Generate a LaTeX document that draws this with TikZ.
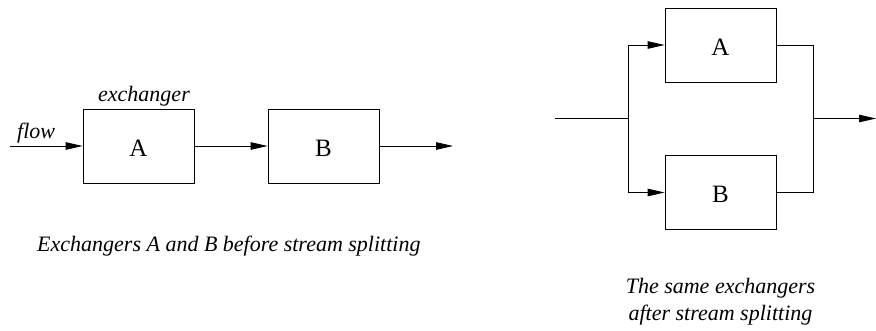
\documentclass[tikz,border=0pt]{standalone}
\usepackage{fontspec}
\setmainfont{Liberation Serif}
\usetikzlibrary{arrows.meta}
\begin{document}
\begin{tikzpicture}[x=1pt,y=-1pt,
  box/.style={draw, line width=0.8pt, minimum width=111pt, minimum height=74pt, inner sep=0pt,
    text height=20pt, text depth=0pt, font=\fontsize{25}{28}\selectfont},
  flowline/.style={line width=0.8pt},
  arr/.style={flowline, -{Triangle[length=17pt,width=7.5pt]}},
  lbl/.style={font=\fontsize{22}{25}\selectfont\itshape, inner sep=0pt}]
\useasboundingbox (0,0) rectangle (876,330);
% left diagram
\node[box] (A1) at (138.5,146) {A};
\node[box] (B1) at (323.5,146) {B};
\coordinate (in1) at (10,146);
\coordinate (out1) at (453,146);
\draw[arr] (in1) -- (A1.west);
\draw[arr] (A1.east) -- (B1.west);
\draw[arr] (B1.east) -- (out1);
\node[lbl, anchor=base west] (flow) at (17,138) {flow};
\node[lbl, anchor=base] (exch) at (144,101) {exchanger};
\node[lbl, anchor=base west] (cap1) at (37,251) {Exchangers A and B before stream splitting};
% right diagram
\node[box] (A2) at (720.5,45) {A};
\node[box] (B2) at (720.5,192.5) {B};
\coordinate (in2) at (555,118.5);
\coordinate (split) at (628,118.5);
\coordinate (join) at (813,118.5);
\coordinate (out2) at (876,118.5);
\draw[flowline] (in2) -- (split);
\draw[arr] (split) |- (A2.west);
\draw[arr] (split) |- (B2.west);
\draw[flowline] (A2.east) -| (join);
\draw[flowline] (B2.east) -| (join);
\draw[arr] (join) -- (out2);
\node[lbl, anchor=base] (cap2a) at (720.5,293) {The same exchangers};
\node[lbl, anchor=base] (cap2b) at (720.5,320) {after stream splitting};
\end{tikzpicture}
\end{document}
